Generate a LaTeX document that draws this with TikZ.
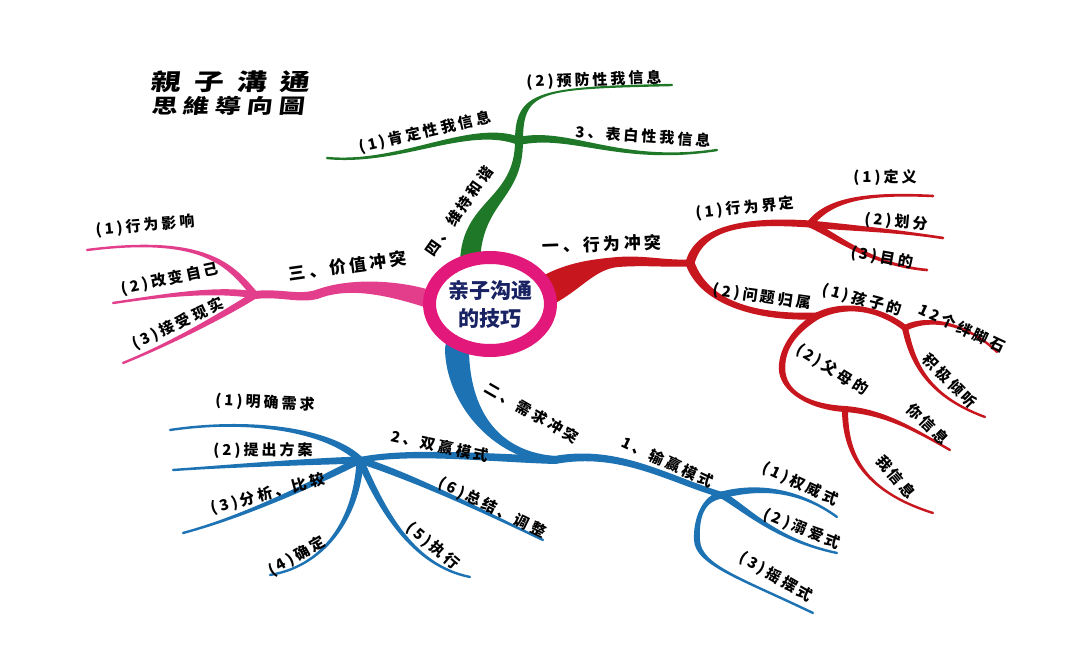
\documentclass[tikz,border=0pt]{standalone}
\usepackage{fontspec}
\usepackage{xcolor}
\usepackage{tikz}
\usetikzlibrary{shapes,calc}

\newfontfamily\cjk[LetterSpace=20]{Noto Sans CJK SC}
\newfontfamily\hubfont{Noto Sans CJK SC}
\newfontfamily\titlefont[FakeStretch=1.3,FakeSlant=0.12]{Noto Sans CJK TC}

\definecolor{greenc}{RGB}{30,120,40}
\definecolor{redc}{RGB}{200,22,30}
\definecolor{pinkc}{RGB}{226,62,140}
\definecolor{ringc}{RGB}{226,24,122}
\definecolor{bluec}{RGB}{28,114,178}
\definecolor{navyc}{RGB}{25,35,100}

% tapered branch: colour, start, control 1, control 2, end, start half-width, end half-width
\newcommand{\branchseg}[7]{%
  \fill[#1] ($(#2)!#6!90:(#3)$) .. controls ($(#3)!#6!-90:(#2)$) and ($(#4)!#7!90:(#5)$) .. ($(#5)!#7!-90:(#4)$)
    -- ($(#5)!#7!90:(#4)$) .. controls ($(#4)!#7!-90:(#5)$) and ($(#3)!#6!90:(#2)$) .. ($(#2)!#6!-90:(#3)$) -- cycle;
  \fill[#1] (#2) circle (#6);
  \fill[#1] (#5) circle (#7);
}

\begin{document}
\begin{tikzpicture}[x=1pt,y=-1pt,
    lbl/.style={font=\cjk\bfseries\fontsize{15}{18}\selectfont, inner sep=1pt},
    mainlbl/.style={font=\cjk\bfseries\fontsize{17}{20}\selectfont, inner sep=1pt},
    hub/.style={ellipse, draw=ringc, line width=13pt, fill=white, minimum width=121pt, minimum height=93pt, inner sep=0pt, align=center, text=navyc, font=\hubfont\bfseries\fontsize{21}{28}\selectfont},
    titletxt/.style={inner sep=0pt, font=\titlefont\bfseries}
]
    \useasboundingbox (0,0) rectangle (1080,647);

    % title
    \node[titletxt] (title1) at (230,82) {\fontsize{23}{25}\selectfont 親\hspace{13pt}子\hspace{13pt}溝\hspace{13pt}通};
    \node[titletxt] (title2) at (228,106) {\fontsize{20}{22}\selectfont 思\hspace{6pt}維\hspace{6pt}導\hspace{6pt}向\hspace{6pt}圖};

    % forks and tips
    \coordinate (gbase) at (470,262);
    \coordinate (gfork) at (519,141);
    \coordinate (g1) at (327,158);
    \coordinate (g2) at (672,85);
    \coordinate (g3) at (717,150);

    \coordinate (rbase) at (548,290);
    \coordinate (rmid) at (618,262);
    \coordinate (rfork1) at (690,263);
    \coordinate (rfork2) at (810,224);
    \coordinate (rfork3) at (817,316);
    \coordinate (rfork4) at (905,328);
    \coordinate (rmid5) at (782,368);
    \coordinate (rfork5) at (845,409);
    \coordinate (r11) at (933,196);
    \coordinate (r12) at (943,238);
    \coordinate (r13) at (927,270);
    \coordinate (r211) at (997,352);
    \coordinate (r212) at (985,417);
    \coordinate (r221) at (950,450);
    \coordinate (r222) at (933,513);

    \coordinate (pbase) at (432,300);
    \coordinate (pmid) at (318,294);
    \coordinate (pfork) at (255,295);
    \coordinate (p1) at (87,250);
    \coordinate (p2) at (113,303);
    \coordinate (p3) at (123,363);

    \coordinate (bbase) at (457,348);
    \coordinate (bfork) at (555,460);
    \coordinate (bfork6) at (360,460);
    \coordinate (bfork7) at (722,495);
    \coordinate (bmid3) at (697,540);
    \coordinate (b11) at (837,517);
    \coordinate (b12) at (837,553);
    \coordinate (b13) at (813,613);
    \coordinate (b21) at (170,430);
    \coordinate (b22) at (173,470);
    \coordinate (b23) at (183,533);
    \coordinate (b24) at (270,575);
    \coordinate (b25) at (470,577);
    \coordinate (b26) at (543,540);

    % green branch
    \branchseg{greenc}{gbase}{472,200}{519,200}{gfork}{10pt}{4pt}
    \branchseg{greenc}{gfork}{470,122}{400,165}{g1}{4pt}{1.2pt}
    \branchseg{greenc}{gfork}{519,90}{540,88}{g2}{4pt}{1.2pt}
    \branchseg{greenc}{gfork}{570,130}{620,165}{g3}{4pt}{1.2pt}

    % red branch
    \branchseg{redc}{rbase}{575,275}{595,264}{rmid}{15pt}{5pt}
    \branchseg{redc}{rmid}{645,260}{665,264}{rfork1}{5pt}{3.5pt}
    \branchseg{redc}{rfork1}{700,225}{750,220}{rfork2}{4.5pt}{3.5pt}
    \branchseg{redc}{rfork2}{830,198}{870,193}{r11}{3.5pt}{1.3pt}
    \branchseg{redc}{rfork2}{850,228}{890,230}{r12}{3.5pt}{1.3pt}
    \branchseg{redc}{rfork2}{835,235}{870,265}{r13}{3.5pt}{1.3pt}
    \branchseg{redc}{rfork1}{705,305}{760,318}{rfork3}{4.5pt}{3.5pt}
    \branchseg{redc}{rfork3}{850,300}{885,312}{rfork4}{3.5pt}{3pt}
    \branchseg{redc}{rfork4}{930,315}{970,325}{r211}{3pt}{1.2pt}
    \branchseg{redc}{rfork4}{912,360}{925,395}{r212}{3pt}{1.2pt}
    \branchseg{redc}{rfork3}{795,330}{782,348}{rmid5}{3.5pt}{3.2pt}
    \branchseg{redc}{rmid5}{782,392}{810,407}{rfork5}{3.2pt}{3pt}
    \branchseg{redc}{rfork5}{885,412}{915,430}{r221}{3pt}{1.2pt}
    \branchseg{redc}{rfork5}{845,450}{860,490}{r222}{3pt}{1.2pt}

    % pink branch
    \branchseg{pinkc}{pbase}{395,288}{350,282}{pmid}{9pt}{4.5pt}
    \branchseg{pinkc}{pmid}{300,300}{280,292}{pfork}{4.5pt}{4pt}
    \branchseg{pinkc}{pfork}{230,265}{205,235}{p1}{3.5pt}{1.2pt}
    \branchseg{pinkc}{pfork}{215,288}{160,296}{p2}{3.5pt}{1.2pt}
    \branchseg{pinkc}{pfork}{228,312}{175,342}{p3}{3.5pt}{1.2pt}

    % blue branch
    \branchseg{bluec}{bbase}{457,400}{490,455}{bfork}{12pt}{4pt}
    \branchseg{bluec}{bfork}{490,458}{410,450}{bfork6}{4pt}{3pt}
    \branchseg{bluec}{bfork}{620,448}{670,480}{bfork7}{4pt}{3pt}
    \branchseg{bluec}{bfork7}{760,485}{800,490}{b11}{3.5pt}{1.2pt}
    \branchseg{bluec}{bfork7}{745,508}{775,540}{b12}{3.5pt}{1.2pt}
    \branchseg{bluec}{bfork7}{702,498}{696,520}{bmid3}{3.5pt}{3pt}
    \branchseg{bluec}{bmid3}{698,565}{740,578}{b13}{3pt}{1.2pt}
    \branchseg{bluec}{bfork6}{330,430}{250,418}{b21}{3.5pt}{1.2pt}
    \branchseg{bluec}{bfork6}{300,462}{230,466}{b22}{3.5pt}{1.2pt}
    \branchseg{bluec}{bfork6}{320,480}{250,515}{b23}{3.5pt}{1.2pt}
    \branchseg{bluec}{bfork6}{358,510}{330,565}{b24}{3.5pt}{1.2pt}
    \branchseg{bluec}{bfork6}{380,505}{410,565}{b25}{3.5pt}{1.2pt}
    \branchseg{bluec}{bfork6}{420,480}{480,510}{b26}{3.5pt}{1.2pt}

    % centre
    \node[hub] (hub) at (490,304) {亲子沟通\\的技巧};

    % labels
    \node[lbl, rotate=55] (lblG) at (459,211) {四、维持和谐};
    \node[lbl, rotate=13] (lblG1) at (425,132) {(1)肯定性我信息};
    \node[lbl, rotate=2] (lblG2) at (594,80) {(2)预防性我信息};
    \node[lbl, rotate=-4] (lblG3) at (643,136) {3、表白性我信息};

    \node[mainlbl, rotate=2] (lblR) at (602,244) {一、行为冲突};
    \node[lbl, rotate=6] (lblR1) at (745,208) {(1)行为界定};
    \node[lbl] (lblR11) at (885,178) {(1)定义};
    \node[lbl, rotate=-5] (lblR12) at (896,222) {(2)划分};
    \node[lbl, rotate=-10] (lblR13) at (882,258) {(3)目的};
    \node[lbl, rotate=-8] (lblR2) at (762,297) {(2)问题归属};
    \node[lbl, rotate=-15] (lblR21) at (862,300) {(1)孩子的};
    \node[lbl, rotate=-25] (lblR211) at (962,328) {12个绊脚石};
    \node[lbl, rotate=-45] (lblR212) at (950,381) {积极倾听};
    \node[lbl, rotate=-32] (lblR22) at (832,370) {(2)父母的};
    \node[lbl, rotate=-45] (lblR221) at (928,424) {你信息};
    \node[lbl, rotate=-50] (lblR222) at (896,477) {我信息};

    \node[mainlbl, rotate=8] (lblP) at (348,266) {三、价值冲突};
    \node[lbl, rotate=5] (lblP1) at (145,226) {(1)行为影响};
    \node[lbl, rotate=12] (lblP2) at (170,279) {(2)改变自己};
    \node[lbl, rotate=25] (lblP3) at (178,324) {(3)接受现实};

    \node[lbl, rotate=-30] (lblB) at (532,413) {二、需求冲突};
    \node[lbl, rotate=-12] (lblB2) at (440,446) {2、双赢模式};
    \node[lbl, rotate=-25] (lblB1) at (668,462) {1、输赢模式};
    \node[lbl, rotate=-25] (lblB11) at (800,484) {(1)权威式};
    \node[lbl, rotate=-22] (lblB12) at (802,529) {(2)溺爱式};
    \node[lbl, rotate=-30] (lblB13) at (776,577) {(3)摇摆式};
    \node[lbl, rotate=-3] (lblB21) at (265,403) {(1)明确需求};
    \node[lbl] (lblB22) at (263,450) {(2)提出方案};
    \node[lbl, rotate=15] (lblB23) at (268,494) {(3)分析、比较};
    \node[lbl, rotate=30] (lblB24) at (297,556) {(4)确定};
    \node[lbl, rotate=-40] (lblB25) at (433,546) {(5)执行};
    \node[lbl, rotate=-26] (lblB26) at (492,508) {(6)总结、调整};
\end{tikzpicture}
\end{document}
